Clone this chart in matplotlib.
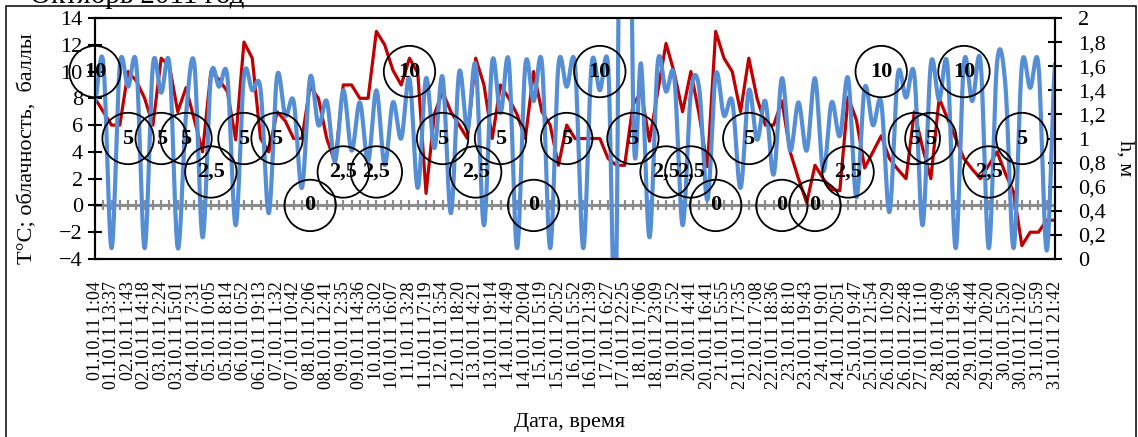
import numpy as np
import matplotlib
matplotlib.use("Agg")
import matplotlib.pyplot as plt
from matplotlib.patches import Rectangle

plt.rcParams['font.family'] = ['Liberation Serif', 'DejaVu Serif']

W, H = 1138, 437

# Подписи категорий (каждая вторая категория подписана)
tick_labels = [
    "01.10.11 1:04", "01.10.11 13:37", "02.10.11 1:43", "02.10.11 14:18",
    "03.10.11 2:24", "03.10.11 15:01", "04.10.11 7:31", "05.10.11 0:05",
    "05.10.11 8:14", "06.10.11 0:52", "06.10.11 19:13", "07.10.11 1:32",
    "07.10.11 10:42", "08.10.11 2:06", "08.10.11 12:41", "09.10.11 2:35",
    "09.10.11 14:36", "10.10.11 3:02", "10.10.11 16:07", "11.10.11 3:28",
    "11.10.11 17:19", "12.10.11 3:54", "12.10.11 18:20", "13.10.11 4:21",
    "13.10.11 19:14", "14.10.11 4:49", "14.10.11 20:04", "15.10.11 5:19",
    "15.10.11 20:52", "16.10.11 5:52", "16.10.11 21:39", "17.10.11 6:27",
    "17.10.11 22:25", "18.10.11 7:06", "18.10.11 23:09", "19.10.11 7:52",
    "20.10.11 4:41", "20.10.11 16:41", "21.10.11 5:55", "21.10.11 17:35",
    "22.10.11 7:08", "22.10.11 18:36", "23.10.11 8:10", "23.10.11 19:43",
    "24.10.11 9:01", "24.10.11 20:51", "25.10.11 9:47", "25.10.11 21:54",
    "26.10.11 10:29", "26.10.11 22:48", "27.10.11 11:10", "28.10.11 4:09",
    "28.10.11 19:36", "29.10.11 4:44", "29.10.11 20:20", "30.10.11 5:20",
    "30.10.11 21:02", "31.10.11 5:59", "31.10.11 21:42",
]

# Температура воздуха, °C
temp = [
    8.0, 7.0, 6.0, 6.0, 10.0, 9.3, 8.0, 6.0, 11.0, 10.4,
    7.0, 8.8, 6.4, 4.0, 10.0, 9.4, 8.5, 4.9, 12.2, 11.0,
    5.0, 4.0, 7.0, 6.3, 5.0, 5.0, 8.9, 8.0, 5.0, 3.2,
    9.0, 9.0, 8.0, 8.0, 13.0, 12.0, 10.1, 9.0, 11.0, 9.9,
    0.9, 6.8, 8.5, 7.0, 6.0, 5.0, 11.0, 9.0, 5.0, 9.0,
    8.0, 6.8, 5.0, 10.0, 7.0, 6.0, 3.0, 6.0, 5.0, 5.0,
    5.0, 5.0, 3.5, 3.0, 3.0, 7.5, 8.5, 4.8, 8.5, 12.1,
    9.9, 7.0, 10.0, 6.8, 2.9, 13.0, 11.0, 10.0, 7.0, 11.0,
    8.0, 6.0, 6.0, 7.8, 4.0, 2.0, 0.2, 3.0, 2.0, 1.2,
    1.1, 8.1, 6.4, 2.8, 4.0, 5.2, 3.5, 2.7, 2.0, 7.0,
    4.3, 2.0, 8.0, 6.5, 5.0, 3.5, 2.7, 2.0, 3.0, 4.0,
    2.4, 1.0, -3.0, -2.0, -2.0, -1.1, -1.1,
]

# Уровень моря h, м
level = [
    1.31, 1.63, 0.09, 1.61, 1.43, 1.61, 0.09, 1.61, 1.38, 1.61,
    0.09, 1.20, 1.62, 0.18, 1.51, 1.43, 1.51, 0.28, 1.52, 1.40,
    1.41, 0.38, 1.52, 1.19, 1.31, 0.59, 1.51, 1.11, 1.31, 0.81,
    1.40, 0.90, 1.30, 0.81, 1.40, 0.78, 1.30, 1.00, 1.50, 0.59,
    1.50, 0.92, 1.51, 0.38, 1.55, 1.07, 1.61, 0.28, 1.64, 1.21,
    1.64, 0.09, 1.61, 1.31, 1.63, 0.09, 1.61, 1.43, 1.61, 0.09,
    1.61, 1.40, 1.61, -0.05, 10.0, 1.36, 1.61, 0.18, 1.63, 1.39,
    1.51, 0.28, 1.38, 1.42, 0.49, 1.53, 1.19, 1.31, 0.59, 1.40,
    0.99, 1.31, 0.70, 1.50, 0.90, 1.30, 0.90, 1.50, 0.73, 1.30,
    1.02, 1.50, 0.51, 1.42, 1.11, 1.30, 0.39, 1.53, 1.34, 1.53,
    0.28, 1.62, 1.32, 1.61, 0.09, 1.63, 1.31, 1.64, 0.09, 1.63,
    1.45, 0.09, 1.61, 1.42, 1.61, 0.07, 1.61,
]

# Облачность, баллы (по одному наблюдению в сутки)
cloud_pos = [0, 4, 8, 11, 14, 18, 22, 26, 30, 34, 38, 42, 46, 49, 53, 57,
             61, 65, 69, 72, 75, 79, 83, 87, 91, 95, 99, 101, 105, 108, 112]
cloud = [10, 5, 5, 5, 2.5, 5, 5, 0, 2.5, 2.5, 10, 5, 2.5, 5, 0, 5,
         10, 5, 2.5, 2.5, 0, 5, 0, 0, 2.5, 10, 5, 5, 10, 2.5, 5]


def smooth_line(y, n=24):
    """Сглаженная линия как в Excel (Catmull-Rom)."""
    y = np.asarray(y, float)
    xs, ys = [], []
    t = np.linspace(0, 1, n, endpoint=False)
    for i in range(len(y) - 1):
        p0 = y[i - 1] if i > 0 else y[i]
        p1, p2 = y[i], y[i + 1]
        p3 = y[i + 2] if i + 2 < len(y) else y[i + 1]
        m1 = (p2 - p0) / 2
        m2 = (p3 - p1) / 2
        h00 = 2 * t**3 - 3 * t**2 + 1
        h10 = t**3 - 2 * t**2 + t
        h01 = -2 * t**3 + 3 * t**2
        h11 = t**3 - t**2
        xs.append(i + t)
        ys.append(h00 * p1 + h10 * m1 + h01 * p2 + h11 * m2)
    xs.append([len(y) - 1])
    ys.append([y[-1]])
    return np.concatenate(xs), np.concatenate(ys)


x = np.arange(len(temp))

fig = plt.figure(figsize=(W / 100, H / 100), dpi=100)
ax = fig.add_axes([95 / W, 1 - 259 / H, 960 / W, 241 / H])

# Ось категорий проходит через ноль
ax.plot(x, np.zeros(len(x)), color='#8c8c8c', lw=2.2, marker='|',
        ms=7.5, mew=1.6, zorder=1)
ax.plot(x, temp, color='#C00000', lw=2.3, zorder=2)

ax.set_xlim(0, len(x) - 1)
ax.set_ylim(-4, 14)
ax.set_yticks(range(-4, 15, 2))
ax.set_xticks(x[::2])
ax.set_xticklabels(tick_labels, rotation=90, fontsize=13)
ax.tick_params(axis='x', length=0, pad=16)
ax.tick_params(axis='y', direction='inout', length=9.5, width=1.5,
               labelsize=16, pad=4)
for s in ax.spines.values():
    s.set_linewidth(1.5)
    s.set_color('black')

ax2 = ax.twinx()
bx, by = smooth_line(level)
ax2.plot(bx, by, color='#558ED5', lw=3.0)
ax2.set_ylim(0, 2)
ax2.set_yticks(np.arange(0, 2.01, 0.2))
ax2.set_yticklabels([f"{v:g}".replace('.', ',') for v in np.round(np.arange(0, 2.01, 0.2), 1)])
ax2.tick_params(axis='y', direction='inout', length=9.5, width=1.5,
                labelsize=16, pad=12)
for s in ax2.spines.values():
    s.set_linewidth(1.5)

# Облачность - кружки с подписями поверх линий
ax3 = ax.twinx()
ax3.set_ylim(-4, 14)
ax3.axis('off')
ax3.scatter(cloud_pos, cloud, s=37**2, facecolors='none',
            edgecolors='black', linewidths=1.3, clip_on=False, zorder=3)
for p, c in zip(cloud_pos, cloud):
    ax3.text(p, c, f"{c:g}".replace('.', ','), ha='center', va='center',
             fontsize=16, fontweight='bold', zorder=4)

# Подписи осей и заголовок
fig.text(28 / W, 1 - 149 / H, "Т°С; облачность,  баллы", rotation=90,
         ha='center', va='center', fontsize=16)
fig.text(1125 / W, 1 - 158 / H, "h, м", rotation=-90,
         ha='center', va='center', fontsize=16)
fig.text(570 / W, 1 - 423 / H, "Дата, время", ha='center', va='center',
         fontsize=16)
fig.text(30 / W, 1 - 3 / H, "Октябрь 2011 год", fontsize=21, va='baseline')

# Рамка области диаграммы
fig.add_artist(Rectangle((6 / W, -0.02), 1130 / W, 1 - 6 / H + 0.02,
                         transform=fig.transFigure, fill=False,
                         edgecolor='black', lw=1.1))

fig.savefig("out.png", dpi=100)
